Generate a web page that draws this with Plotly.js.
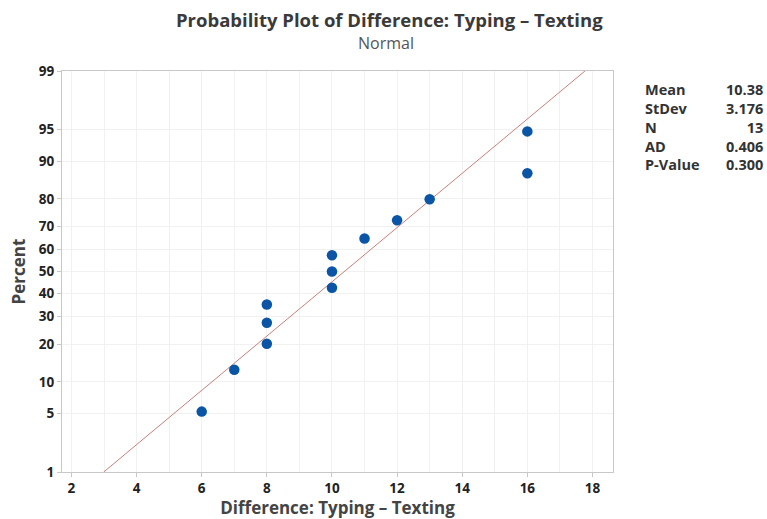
<!DOCTYPE html>
<html><head><meta charset="utf-8">
<script src="https://cdn.plot.ly/plotly-3.0.1.min.js"></script>
<style>html,body{margin:0;padding:0;background:#fff}#chart{width:767px;height:519px}</style>
</head><body><div id="chart"></div>
<script>
// Data
const diffValues = [6, 7, 8, 8, 8, 10, 10, 10, 11, 12, 13, 16, 16];
const percentValues = [5.2, 12.7, 20.1, 27.6, 35.1, 42.5, 50, 57.5, 64.9, 72.4, 79.9, 87.3, 94.8];
const yTickPercents = [1, 5, 10, 20, 30, 40, 50, 60, 70, 80, 90, 95, 99];
const xTickValues = [2, 4, 6, 8, 10, 12, 14, 16, 18];
const statLabels = ["Mean", "StDev", "N", "AD", "P-Value"];
const statValues = ["10.38", "3.176", "13", "0.406", "0.300"];
const fitMean = 10.38;
const fitStDev = 3.176;
const fitEndPercents = [1, 99];

// inverse standard normal (Acklam)
function invNorm(p) {
  const a = [-3.969683028665376e+01, 2.209460984245205e+02, -2.759285104469687e+02, 1.383577518672690e+02, -3.066479806614716e+01, 2.506628277459239e+00];
  const b = [-5.447609879822406e+01, 1.615858368580409e+02, -1.556989798598866e+02, 6.680131188771972e+01, -1.328068155288572e+01];
  const c = [-7.784894002430293e-03, -3.223964580411365e-01, -2.400758277161838e+00, -2.549732539343734e+00, 4.374664141464968e+00, 2.938163982698783e+00];
  const d = [7.784695709041462e-03, 3.224671290700398e-01, 2.445134137142996e+00, 3.754408661907416e+00];
  const pl = 0.02425, ph = 1 - pl;
  let q, r;
  if (p < pl) { q = Math.sqrt(-2 * Math.log(p)); return (((((c[0]*q+c[1])*q+c[2])*q+c[3])*q+c[4])*q+c[5]) / ((((d[0]*q+d[1])*q+d[2])*q+d[3])*q+1); }
  if (p > ph) { q = Math.sqrt(-2 * Math.log(1 - p)); return -(((((c[0]*q+c[1])*q+c[2])*q+c[3])*q+c[4])*q+c[5]) / ((((d[0]*q+d[1])*q+d[2])*q+d[3])*q+1); }
  q = p - 0.5; r = q * q;
  return (((((a[0]*r+a[1])*r+a[2])*r+a[3])*r+a[4])*r+a[5])*q / (((((b[0]*r+b[1])*r+b[2])*r+b[3])*r+b[4])*r+1);
}
const z = p => invNorm(p / 100);

const fitZ = fitEndPercents.map(z);
const fitX = fitZ.map(v => fitMean + fitStDev * v);

const fontFam = '"Open Sans", "Noto Sans", sans-serif';

const traces = [
  { x: [2, 18], y: [0, 0], xaxis: 'x2', yaxis: 'y', mode: 'markers', marker: { opacity: 0 }, hoverinfo: 'skip', showlegend: false },
  { x: fitX, y: fitZ, mode: 'lines', line: { color: '#c97f7f', width: 1 }, hoverinfo: 'skip', showlegend: false },
  { x: diffValues, y: percentValues.map(z), mode: 'markers', marker: { color: '#0a55a5', size: 10.5 }, showlegend: false }
];

const yr = [z(1), z(99)];
const L = 62, R = 613, T = 71, B = 472;
const px = v => (v - L) / (R - L);
const py = v => (B - v) / (B - T);
const annotations = [
  { text: '<b>Probability Plot of Difference: Typing – Texting</b>', xref: 'paper', yref: 'paper', x: px(389), y: py(19), xanchor: 'center', yanchor: 'middle', showarrow: false, borderpad: 0, font: { family: fontFam, size: 18.5, color: '#3a3a3a' } },
  { text: 'Normal', xref: 'paper', yref: 'paper', x: px(386), y: py(43), xanchor: 'center', yanchor: 'middle', showarrow: false, borderpad: 0, font: { family: fontFam, size: 16, color: '#555' } },
  { text: statLabels.map(s => '<b>' + s + '</b>').join('<br>'), xref: 'paper', yref: 'paper', x: px(643), y: py(78), xanchor: 'left', yanchor: 'top', align: 'left', showarrow: false, font: { family: fontFam, size: 14.5, color: '#333' } },
  { text: statValues.map(s => '<b>' + s + '</b>').join('<br>'), xref: 'paper', yref: 'paper', x: px(765), y: py(78), xanchor: 'right', yanchor: 'top', align: 'right', showarrow: false, font: { family: fontFam, size: 14.5, color: '#333' } }
];

const layout = {
  width: 767, height: 519,
  margin: { l: L, r: 767 - R, t: T, b: 519 - B, pad: 0 },
  paper_bgcolor: '#fff', plot_bgcolor: '#fff',
  showlegend: false,
  xaxis: {
    range: [1.71, 18.63], tickvals: xTickValues, ticktext: xTickValues.map(v => '<b>' + v + '</b>'),
    showgrid: false, zeroline: false, showline: true, mirror: true, linecolor: '#c8c8c8', linewidth: 1,
    ticks: 'outside', ticklen: 4, tickcolor: '#c8c8c8',
    tickfont: { family: fontFam, size: 13.5, color: '#222' },
    title: { text: '<b>Difference: Typing – Texting</b>', font: { family: fontFam, size: 17, color: '#444' }, standoff: 5 }
  },
  xaxis2: {
    overlaying: 'x', matches: 'x', range: [1.71, 18.63], dtick: 1, tick0: 0, showgrid: true, gridcolor: '#f1f1f1', gridwidth: 1,
    showticklabels: false, zeroline: false, ticks: ''
  },
  yaxis: {
    range: yr, tickvals: yTickPercents.map(z), ticktext: yTickPercents.map(v => '<b>' + v + '</b>'),
    showgrid: true, gridcolor: '#f1f1f1', zeroline: false, showline: true, mirror: true, linecolor: '#c8c8c8', linewidth: 1,
    ticks: 'outside', ticklen: 4, tickcolor: '#c8c8c8',
    tickfont: { family: fontFam, size: 13.5, color: '#222' },
    title: { text: '<b>Percent</b>', font: { family: fontFam, size: 17, color: '#444' }, standoff: 8 }
  },
  annotations: annotations
};

Plotly.newPlot('chart', traces, layout, { staticPlot: true, displayModeBar: false });
</script>
</body></html>
